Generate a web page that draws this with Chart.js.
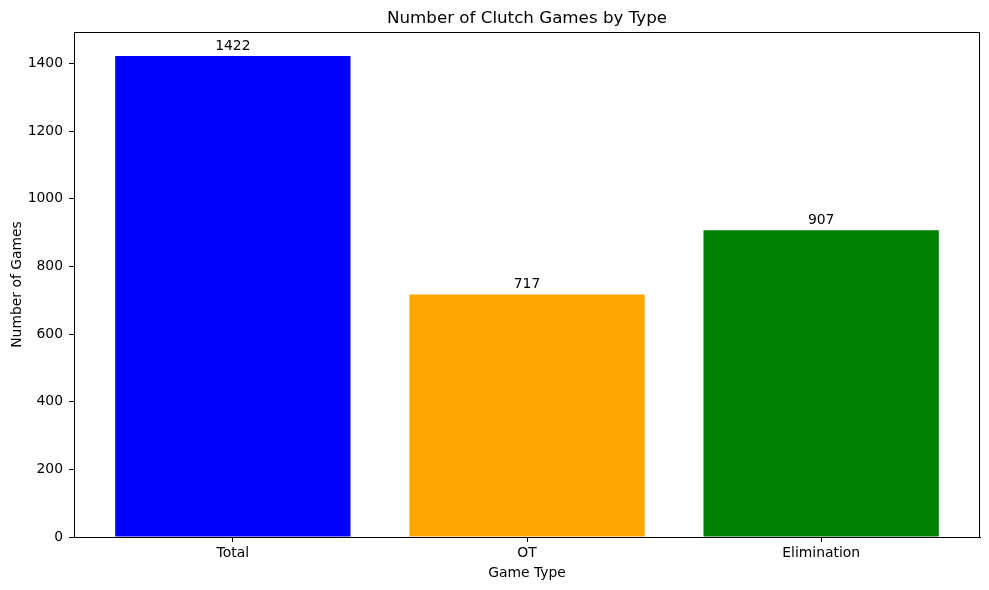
<!DOCTYPE html>
<html><head><meta charset="utf-8">
<script src="https://cdn.jsdelivr.net/npm/chart.js@4"></script>
<style>html,body{margin:0;padding:0;background:#fff}</style>
</head><body>
<canvas id="c" width="989" height="590"></canvas>
<script>
const categories = ['Total', 'OT', 'Elimination'];
const values = [1422, 717, 907];
const barColors = ['#0000ff', '#ffa500', '#008000'];
const yTicks = [0, 200, 400, 600, 800, 1000, 1200, 1400];
const titleText = 'Number of Clutch Games by Type';
const xTitle = 'Game Type';
const yTitle = 'Number of Games';

const FONT = 'DejaVu Sans';
const tickFont = { family: FONT, size: 13.9 };

const decor = {
  id: 'decor',
  afterDatasetsDraw(chart) {
    const ctx = chart.ctx, a = chart.chartArea;
    ctx.save();
    ctx.strokeStyle = '#000'; ctx.lineWidth = 1;
    ctx.beginPath();
    ctx.moveTo(a.left, a.top + 0.5); ctx.lineTo(a.right, a.top + 0.5);
    ctx.moveTo(a.right - 0.5, a.top); ctx.lineTo(a.right - 0.5, a.bottom);
    ctx.stroke();
    ctx.fillStyle = '#000';
    ctx.font = '13.9px "DejaVu Sans"';
    ctx.textAlign = 'center'; ctx.textBaseline = 'alphabetic';
    const meta = chart.getDatasetMeta(0);
    meta.data.forEach((bar, i) => {
      ctx.fillText(String(values[i]), bar.x, bar.y - 6.5);
    });
    ctx.font = '16.7px "DejaVu Sans"';
    ctx.fillText(titleText, (a.left + a.right) / 2, 23);
    ctx.font = '13.9px "DejaVu Sans"';
    ctx.textBaseline = 'middle';
    ctx.fillText(xTitle, (a.left + a.right) / 2, 573);
    ctx.save();
    ctx.translate(17, (a.top + a.bottom) / 2);
    ctx.rotate(-Math.PI / 2);
    ctx.fillText(yTitle, 0, 0);
    ctx.restore();
    ctx.restore();
  }
};

new Chart(document.getElementById('c'), {
  type: 'bar',
  data: {
    datasets: [{
      data: categories.map((c, i) => ({ x: i, y: values[i] })),
      backgroundColor: barColors,
      borderWidth: 0,
      barPercentage: 0.8,
      categoryPercentage: 1.0
    }]
  },
  options: {
    responsive: false,
    animation: false,
    devicePixelRatio: 1,
    layout: { padding: { top: 32, right: 9, left: 0, bottom: 0 } },
    plugins: { legend: { display: false }, tooltip: { enabled: false }, title: { display: false } },
    scales: {
      x: {
        type: 'linear',
        offset: false,
        min: -0.54, max: 2.54,
        afterBuildTicks: s => { s.ticks = categories.map((c, i) => ({ value: i })); },
        afterFit: s => { s.height = 53; },
        ticks: {
          callback: v => categories[v] ?? '',
          color: '#000', font: tickFont, padding: 3, maxRotation: 0, autoSkip: false
        },
        grid: { display: true, offset: false, drawOnChartArea: false, drawTicks: true, tickLength: 5, color: '#000' },
        border: { display: true, color: '#000', width: 1 }
      },
      y: {
        min: 0, max: 1493.1,
        afterBuildTicks: s => { s.ticks = yTicks.map(v => ({ value: v })); },
        afterFit: s => { s.width = 74; },
        ticks: { color: '#000', font: tickFont, padding: 6, callback: v => String(v) },
        grid: { display: true, drawOnChartArea: false, drawTicks: true, tickLength: 5, color: '#000' },
        border: { display: true, color: '#000', width: 1 }
      }
    }
  },
  plugins: [decor]
});
</script>
</body></html>
